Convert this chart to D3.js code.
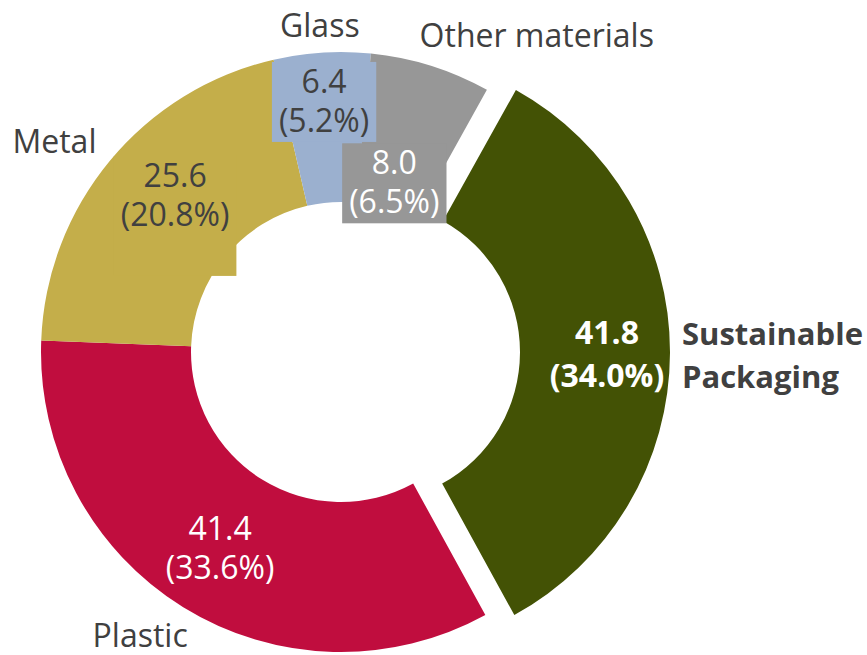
<!DOCTYPE html>
<html>
<head>
<meta charset="utf-8">
<script src="https://cdn.jsdelivr.net/npm/d3@7"></script>
<style>
  html, body { margin: 0; padding: 0; background: #ffffff; }
  svg { display: block; }
  text { font-family: "Open Sans", "DejaVu Sans", sans-serif; }
</style>
</head>
<body>
<svg id="chart" width="867" height="655"></svg>
<script>
// ---- data ----
const categories = ["Sustainable Packaging", "Plastic", "Metal", "Glass", "Other materials"];
const values = [41.8, 41.4, 25.6, 6.4, 8.0];
const percentLabels = ["34.0%", "33.6%", "20.8%", "5.2%", "6.5%"];
const valueLabels = ["41.8", "41.4", "25.6", "6.4", "8.0"];
const catLabelLines = [["Sustainable", "Packaging"], ["Plastic"], ["Metal"], ["Glass"], ["Other materials"]];

// ---- styling / layout ----
const colors = ["#435205", "#C00D3E", "#C4AE4A", "#9BB0CF", "#979797"];
const valueTextColors = ["#ffffff", "#ffffff", "#404040", "#404040", "#ffffff"];
const valueBold = [true, false, false, false, false];
const showBox = [false, false, true, true, true];
const exploded = [29, 0, 0, 0, 0];
// value-label offsets from slice centroid (baseline of first line)
const valueOffsets = [[12, -9], [-2.6, -3.3], [7.4, -21.6], [-2.7, -34.5], [-14, 37]];
const boxExtraBottom = [0, 0, 40, 0, 0];
// category-label offsets from outer label point
const catOffsets = [[-23, -8], [-24.7, 10], [-28.5, 14.5], [0, 19], [95.5, 15]];
const catAnchors = ["start", "middle", "middle", "middle", "middle"];

const cx = 341, cy = 352, rOuter = 300, rInner = 150;
const startAngle = 29.1 * Math.PI / 180;

const svg = d3.select("#chart");
const g = svg.append("g").attr("transform", `translate(${cx},${cy})`);

const pie = d3.pie().sort(null).value(d => d)
  .startAngle(startAngle).endAngle(startAngle + 2 * Math.PI);
const arcs = pie(values);
const arc = d3.arc().innerRadius(rInner).outerRadius(rOuter);
const midArc = d3.arc().innerRadius(225).outerRadius(225);
const outArc = d3.arc().innerRadius(335).outerRadius(335);

function shift(d, i) {
  const a = (d.startAngle + d.endAngle) / 2;
  return [Math.sin(a) * exploded[i], -Math.cos(a) * exploded[i]];
}

// slices
g.selectAll("path.slice").data(arcs).enter().append("path")
  .attr("class", "slice")
  .attr("d", arc)
  .attr("fill", (d, i) => colors[i])
  .attr("transform", (d, i) => { const s = shift(d, i); return `translate(${s[0]},${s[1]})`; });

// value labels with background boxes
const labelG = g.selectAll("g.vlabel").data(arcs).enter().append("g").attr("class", "vlabel");
labelG.each(function(d, i) {
  const s = shift(d, i);
  const c = midArc.centroid(d);
  const x = c[0] + s[0] + valueOffsets[i][0];
  const y = c[1] + s[1] + valueOffsets[i][1];
  const lg = d3.select(this);
  const rect = showBox[i] ? lg.append("rect").attr("fill", colors[i]) : null;
  const size = 32;
  const gap = valueBold[i] ? 43 : 39;
  const t1 = lg.append("text").attr("x", x).attr("y", y).attr("text-anchor", "middle")
    .attr("font-size", size).attr("font-weight", valueBold[i] ? 700 : 400)
    .attr("fill", valueTextColors[i]).text(valueLabels[i]);
  const t2 = lg.append("text").attr("x", x).attr("y", y + gap).attr("text-anchor", "middle")
    .attr("font-size", size).attr("font-weight", valueBold[i] ? 700 : 400)
    .attr("fill", valueTextColors[i]).text("(" + percentLabels[i] + ")");
  if (rect) {
    const w = Math.max(t1.node().getComputedTextLength(), t2.node().getComputedTextLength()) + 14;
    rect.attr("x", x - w / 2).attr("y", y - 31).attr("width", w)
      .attr("height", gap + 41 + boxExtraBottom[i]);
  }
});

// category labels
arcs.forEach((d, i) => {
  const s = shift(d, i);
  const c = outArc.centroid(d);
  const x = c[0] + s[0] + catOffsets[i][0];
  const y = c[1] + s[1] + catOffsets[i][1];
  const bold = i === 0;
  const t = g.append("text").attr("x", x).attr("y", y)
    .attr("text-anchor", catAnchors[i])
    .attr("font-size", bold ? 31 : 32)
    .attr("font-weight", bold ? 700 : 400)
    .attr("fill", "#404040");
  catLabelLines[i].forEach((line, k) => {
    t.append("tspan").attr("x", x).attr("dy", k === 0 ? 0 : 43).text(line);
  });
});
</script>
</body>
</html>
